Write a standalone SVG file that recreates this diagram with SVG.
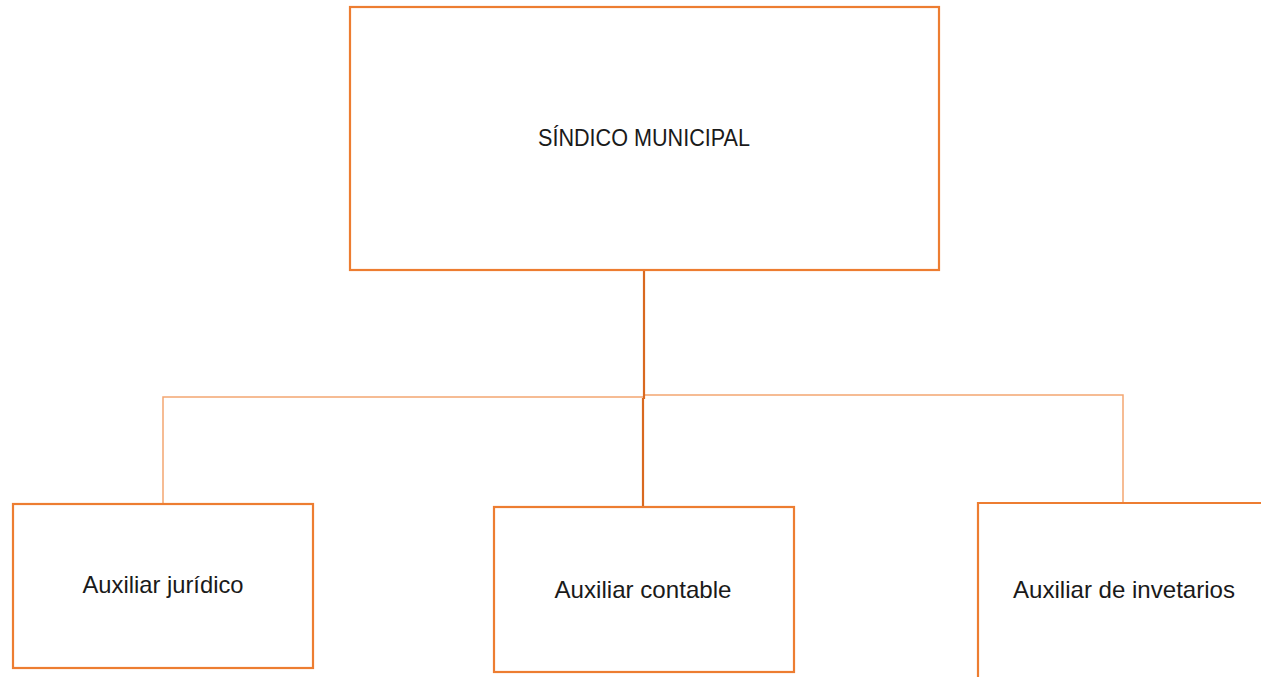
<svg xmlns="http://www.w3.org/2000/svg" width="1261" height="677" viewBox="0 0 1261 677">
<style>
.box{fill:#ffffff;stroke:#ED7D31;stroke-width:2.2}
.lbl{font-family:"Liberation Sans","DejaVu Sans",sans-serif;font-size:24px;fill:#1a1a1a;text-anchor:middle}
.conn{fill:none;stroke:#F4A672;stroke-width:1.5}
.trunk{fill:none;stroke:#D9691F;stroke-width:2.2}
</style>
<rect width="1261" height="677" fill="#ffffff"/>
<g id="connectors">
<path class="conn" d="M163,503 V397 H643"/>
<path class="conn" d="M645,395 H1123 V503"/>
<path class="trunk" d="M644,270 V399"/>
<path class="trunk" d="M643,398 V507"/>
</g>
<g id="node-sindico">
<rect class="box" x="350" y="7" width="589" height="263"/>
<text class="lbl" x="644" y="146" textLength="212" lengthAdjust="spacingAndGlyphs">SÍNDICO MUNICIPAL</text>
</g>
<g id="node-juridico">
<rect class="box" x="13" y="504" width="300" height="164"/>
<text class="lbl" x="163" y="593" textLength="161" lengthAdjust="spacingAndGlyphs">Auxiliar jurídico</text>
</g>
<g id="node-contable">
<rect class="box" x="494" y="507" width="300" height="165"/>
<text class="lbl" x="643" y="598" textLength="177" lengthAdjust="spacingAndGlyphs">Auxiliar contable</text>
</g>
<g id="node-inventarios">
<path class="box" d="M978,677 V503 H1261"/>
<text class="lbl" x="1124" y="598" textLength="222" lengthAdjust="spacingAndGlyphs">Auxiliar de invetarios</text>
</g>
</svg>
